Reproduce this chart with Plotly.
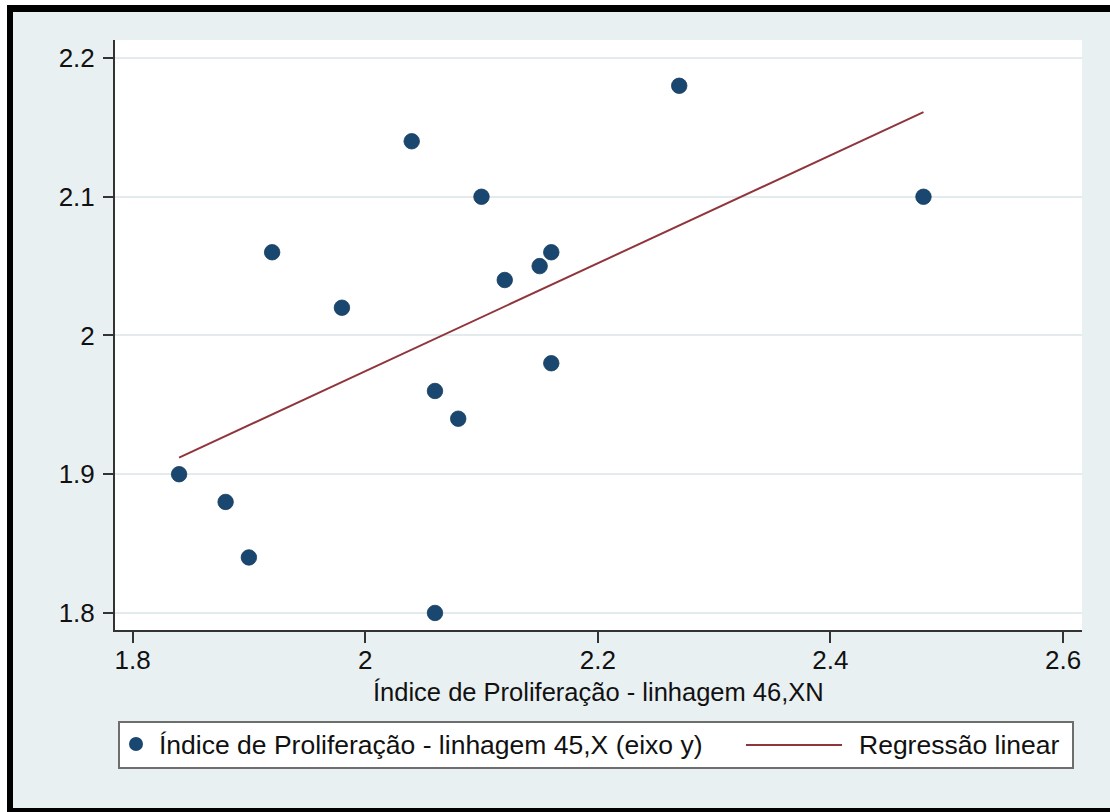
import plotly.graph_objects as go

# Data
x_46xn = [1.84, 1.88, 1.90, 1.92, 1.98, 2.04, 2.06, 2.06, 2.08, 2.10, 2.12, 2.15, 2.16, 2.16, 2.27, 2.48]
y_45x = [1.90, 1.88, 1.84, 2.06, 2.02, 2.14, 1.96, 1.80, 1.94, 2.10, 2.04, 2.05, 2.06, 1.98, 2.18, 2.10]
fit_x = [1.84, 2.48]
fit_y = [1.912, 2.161]
x_ticks = [1.8, 2.0, 2.2, 2.4, 2.6]
x_ticklabels = ["1.8", "2", "2.2", "2.4", "2.6"]
y_ticks = [1.8, 1.9, 2.0, 2.1, 2.2]
y_ticklabels = ["1.8", "1.9", "2", "2.1", "2.2"]

x_title = "Índice de Proliferação - linhagem 46,XN"
leg_scatter = "Índice de Proliferação - linhagem 45,X (eixo y)"
leg_line = "Regressão linear"

W, H = 1110, 812
L, R, T, B = 115, 28, 40, 182
PW, PH = W - L - R, H - T - B


def px(v):
    return (v - L) / PW


def py(v):
    return (H - B - v) / PH


NAVY = "#1A476F"
MAROON = "#90353B"
BG = "#E9F0F2"
TXT = "#111111"
FONT = "Liberation Sans, Arial, sans-serif"

fig = go.Figure()
fig.add_trace(go.Scatter(x=x_46xn, y=y_45x, mode="markers", name=leg_scatter,
                         marker=dict(color=NAVY, size=15.5, line=dict(width=0.8, color="#163C5E")),
                         showlegend=False))
fig.add_trace(go.Scatter(x=fit_x, y=fit_y, mode="lines", name=leg_line,
                         line=dict(color=MAROON, width=2), showlegend=False))

shapes = []
# outer white strips and black frame
shapes.append(dict(type="rect", xref="paper", yref="paper", x0=px(0), x1=px(W), y0=py(0), y1=py(5),
                   fillcolor="white", line=dict(width=0), layer="above"))
shapes.append(dict(type="rect", xref="paper", yref="paper", x0=px(0), x1=px(7), y0=py(0), y1=py(H),
                   fillcolor="white", line=dict(width=0), layer="above"))
shapes.append(dict(type="rect", xref="paper", yref="paper", x0=px(7), x1=px(W), y0=py(5), y1=py(12),
                   fillcolor="black", line=dict(width=0), layer="above"))
shapes.append(dict(type="rect", xref="paper", yref="paper", x0=px(7), x1=px(13), y0=py(5), y1=py(H),
                   fillcolor="black", line=dict(width=0), layer="above"))
shapes.append(dict(type="rect", xref="paper", yref="paper", x0=px(7), x1=px(W), y0=py(808), y1=py(H),
                   fillcolor="black", line=dict(width=0), layer="above"))
# legend box
shapes.append(dict(type="rect", xref="paper", yref="paper", x0=px(119), x1=px(1073), y0=py(722), y1=py(768),
                   fillcolor="white", line=dict(width=2, color="#6E6E6E"), layer="above"))
shapes.append(dict(type="circle", xref="paper", yref="paper", x0=px(129), x1=px(143), y0=py(737), y1=py(751),
                   fillcolor=NAVY, line=dict(width=0), layer="above"))
shapes.append(dict(type="line", xref="paper", yref="paper", x0=px(746), x1=px(842), y0=py(745), y1=py(745),
                   line=dict(width=2, color=MAROON), layer="above"))

annotations = [
    dict(x=0.5, y=py(692), xref="paper", yref="paper", text=x_title, showarrow=False,
         xanchor="center", yanchor="middle", font=dict(size=25.5, color=TXT, family=FONT)),
    dict(x=px(157), y=py(745), xref="paper", yref="paper", text=leg_scatter, showarrow=False,
         xanchor="left", yanchor="middle", font=dict(size=26.5, color=TXT, family=FONT)),
    dict(x=px(857), y=py(745), xref="paper", yref="paper", text=leg_line, showarrow=False,
         xanchor="left", yanchor="middle", font=dict(size=26.5, color=TXT, family=FONT)),
]

fig.update_layout(
    width=W, height=H,
    margin=dict(l=L, r=R, t=T, b=B, pad=0),
    paper_bgcolor=BG, plot_bgcolor="white",
    font=dict(family=FONT, size=25, color=TXT),
    showlegend=False,
    shapes=shapes, annotations=annotations,
    xaxis=dict(range=[1.7849, 2.6163], tickvals=x_ticks, ticktext=x_ticklabels,
               showgrid=False, zeroline=False, showline=True, linecolor="#333", linewidth=2,
               ticks="outside", ticklen=11, tickwidth=2, tickcolor="#333",
               tickfont=dict(size=26, color=TXT), ticklabelstandoff=-5),
    yaxis=dict(range=[1.7877, 2.213], tickvals=y_ticks, ticktext=y_ticklabels,
               showgrid=True, gridcolor="#E3EBED", gridwidth=1.5, zeroline=False,
               showline=True, linecolor="#333", linewidth=2,
               ticks="outside", ticklen=10, tickwidth=2, tickcolor="#333",
               tickfont=dict(size=26, color=TXT), ticklabelstandoff=3),
)

fig.write_html("out.html")
